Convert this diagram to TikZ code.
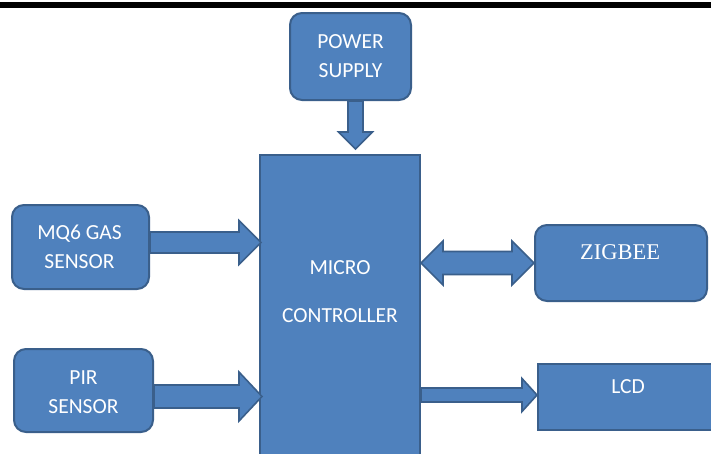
\documentclass[tikz,border=0pt]{standalone}
\usepackage{fontspec}
\setmainfont{Carlito}
\newfontfamily\zigfont{Liberation Serif}
\usetikzlibrary{calc}
\definecolor{boxfill}{HTML}{4F81BD}
\definecolor{boxline}{HTML}{3A5F8B}
% horizontal right arrow: #1 start, #2 tip, #3 shaft half, #4 head half, #5 head length
\newcommand\rblock[5]{%
  \draw[arr] let \p1=(#1), \p2=(#2) in
    (\x1,\y2+#3pt) -- (\x2-#5pt,\y2+#3pt) -- (\x2-#5pt,\y2+#4pt) -- (\x2,\y2)
    -- (\x2-#5pt,\y2-#4pt) -- (\x2-#5pt,\y2-#3pt) -- (\x1,\y2-#3pt) -- cycle;}
% vertical down arrow
\newcommand\dblock[5]{%
  \draw[arr] let \p1=(#1), \p2=(#2) in
    (\x2-#3pt,\y1) -- (\x2-#3pt,\y2+#5pt) -- (\x2-#4pt,\y2+#5pt) -- (\x2,\y2)
    -- (\x2+#4pt,\y2+#5pt) -- (\x2+#3pt,\y2+#5pt) -- (\x2+#3pt,\y1) -- cycle;}
% double horizontal arrow
\newcommand\lrblock[5]{%
  \draw[arr] let \p1=(#1), \p2=(#2) in
    (\x1,\y2) -- (\x1+#5pt,\y2+#4pt) -- (\x1+#5pt,\y2+#3pt) -- (\x2-#5pt,\y2+#3pt)
    -- (\x2-#5pt,\y2+#4pt) -- (\x2,\y2) -- (\x2-#5pt,\y2-#4pt) -- (\x2-#5pt,\y2-#3pt)
    -- (\x1+#5pt,\y2-#3pt) -- (\x1+#5pt,\y2-#4pt) -- cycle;}
\begin{document}
\begin{tikzpicture}[x=1pt,y=-1pt,
  box/.style={draw=boxline, fill=boxfill, line width=2pt},
  rbox/.style={box, rounded corners=12pt},
  lbl/.style={text=white, font=\fontsize{21.5}{29}\selectfont, align=center, inner sep=0pt},
  arr/.style={draw=boxline, fill=boxfill, line width=1.6pt, line join=miter}]
\useasboundingbox (0,0) rectangle (711,453);
\clip (0,0) rectangle (711,453);
\fill[white] (0,0) rectangle (711,453);
\fill[black] (0,2) rectangle (711,8);

% boxes
\node[rbox, minimum width=121pt, minimum height=87pt] (power) at (350.5,56.5) {};
\node[box, minimum width=160pt, minimum height=320pt] (mcu) at (340,315) {};
\node[rbox, minimum width=137pt, minimum height=84pt] (mq6) at (80.5,247) {};
\node[rbox, minimum width=139pt, minimum height=83pt] (pir) at (83.5,390.5) {};
\node[rbox, minimum width=172pt, minimum height=76pt] (zig) at (621,263) {};
\node[box, minimum width=260pt, minimum height=66pt] (lcd) at (668,397) {};

% labels
\node[lbl] (powert) at (power) {POWER\\SUPPLY};
\node[lbl] (mq6t) at ($(mq6)+(-1,0)$) {MQ6 GAS\\SENSOR};
\node[lbl] (pirt) at ($(pir)+(0,2)$) {PIR\\SENSOR};
\node[lbl] (mcut1) at (340,268) {MICRO};
\node[lbl] (mcut2) at (340,316) {CONTROLLER};
\node[lbl, font=\zigfont\fontsize{22.5}{26}\selectfont] (zigt) at (620,252) {ZIGBEE};
\node[lbl] (lcdt) at (628,387) {LCD};

% arrows
\dblock{power.south}{$(mcu.north)+(15.5,-5)$}{7.5}{17}{17}
\rblock{$(mq6.east)+(0,-4.5)$}{$(mcu.west |- mq6.east)+(2,-4.5)$}{10.5}{22}{22}
\rblock{$(pir.east)+(0,6)$}{$(mcu.west |- pir.east)+(3,6)$}{11.5}{24.5}{23}
\lrblock{mcu.east |- zig.west}{zig.west}{11.5}{22}{22}
\rblock{mcu.east |- lcd.west}{$(lcd.west)+(0,-2)$}{7}{16.5}{15}
\end{tikzpicture}
\end{document}
